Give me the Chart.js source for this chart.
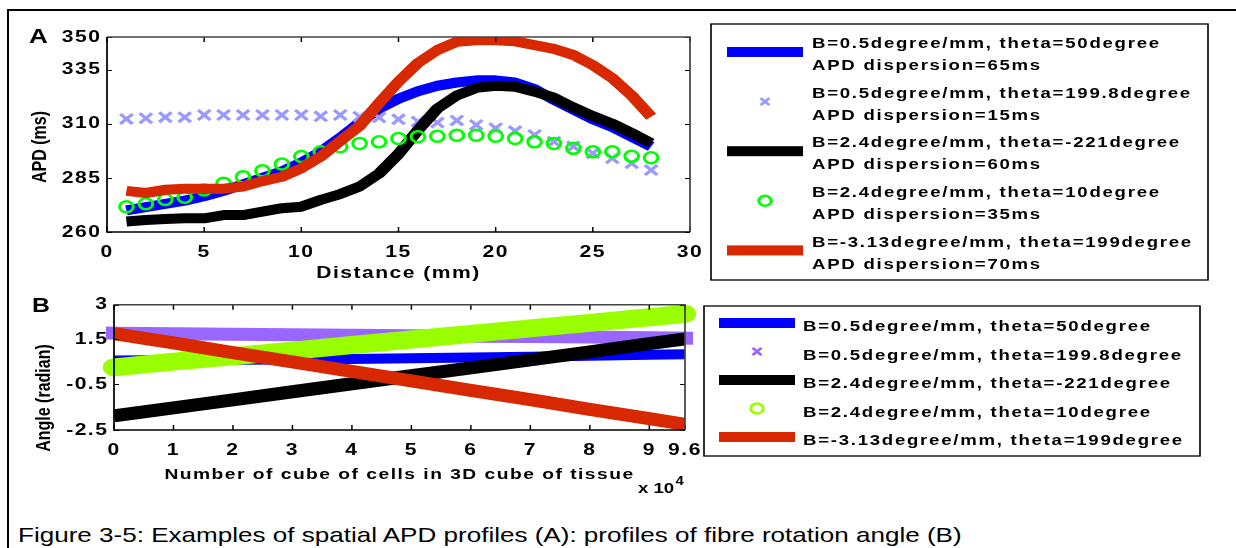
<!DOCTYPE html>
<html>
<head>
<meta charset="utf-8">
<script src="https://cdn.jsdelivr.net/npm/chart.js@4/dist/chart.umd.min.js"></script>
<style>
    body { margin: 0; width: 1236px; height: 548px; background: #fff; position: relative; overflow: hidden; font-family: "Liberation Sans", Arial, sans-serif; }
    #frame { position: absolute; left: 7px; top: 9px; width: 1240px; height: 560px; border-left: 2px solid #000; border-top: 2px solid #000; }
    canvas { position: absolute; left: 0; }
    #chartA { top: 0; }
    #chartB { top: 290px; }
    .wide { position: absolute; white-space: nowrap; transform: scaleX(1.24); transform-origin: 0 0; }
    .panel { font-weight: bold; line-height: 21px; }
    #caption { left: 18px; top: 523px; font-size: 21px; line-height: 24px; }
    #expo { left: 638px; top: 476px; font-size: 15px; font-weight: bold; }
    #expo sup { font-size: 12px; position: relative; top: -2px; margin-left: 1px; }
</style>
</head>
<body>
<div id="frame"></div>
<canvas id="chartA" width="1236" height="290"></canvas>
<canvas id="chartB" width="1236" height="210"></canvas>
<div class="wide panel" style="left:29px; top:25px; font-size:21px;">A</div>
<div class="wide panel" style="left:32px; top:295px; font-size:20px;">B</div>
<div class="wide" id="expo">x 10<sup>4</sup></div>
<div class="wide" id="caption">Figure 3-5: Examples of spatial APD profiles (A): profiles of fibre rotation angle (B)</div>

<script>
    // ---- panel A: APD along the fibre (ms) ----
    var distanceMm = [1, 2, 3, 4, 5, 6, 7, 8, 9, 10, 11, 12, 13, 14, 15, 16, 17, 18, 19, 20, 21, 22, 23, 24, 25, 26, 27, 28];

    var apdB05t50 = [270, 271.5, 273, 274.5, 276.5, 279, 282, 285, 288, 292, 297, 303.5, 310.5, 317, 321.5, 325, 327.5, 329, 330, 330, 329, 326, 321, 316.5, 312, 308.5, 304, 299.5];
    var apdB05t1998 = [312.2, 312.5, 313, 313, 314, 314, 314, 314, 314, 314, 313.4, 314, 313.2, 312.8, 312, 311, 310.5, 311.5, 309.4, 307.9, 306.6, 304.8, 301.7, 299.5, 296.3, 294, 291.7, 288.6];
    var apdB24tm221 = [264.8, 265.5, 266, 266.3, 266.3, 267.8, 267.8, 269.4, 271, 271.7, 274.8, 277.5, 281, 287, 296, 307, 317, 323, 326.5, 327.5, 327, 324.8, 322, 317.5, 313.5, 310, 305.7, 301];
    var apdB24t10 = [271.7, 273, 275, 276, 279.4, 282.5, 285.5, 288.3, 291.4, 294.8, 297, 299.3, 300.9, 301.6, 303.2, 304, 304.2, 304.7, 304.7, 304.2, 303.2, 301.6, 300.9, 298.6, 297, 297, 295, 294.3];
    var apdBm313t199 = [279, 278, 279.5, 280, 280, 280, 281, 283.5, 285.5, 289.4, 294.8, 302, 309, 319.5, 329.4, 338, 344, 347.8, 348.5, 348.5, 348, 346.3, 344.5, 341.7, 337, 331, 323, 313.2];

    var apdTicks = [260, 285, 310, 335, 350];

    var seriesNames = [
        'B=0.5degree/mm, theta=50degree',
        'B=0.5degree/mm, theta=199.8degree',
        'B=2.4degree/mm, theta=-221degree',
        'B=2.4degree/mm, theta=10degree',
        'B=-3.13degree/mm, theta=199degree'
    ];
    var apdDispersion = ['APD dispersion=65ms', 'APD dispersion=15ms', 'APD dispersion=60ms', 'APD dispersion=35ms', 'APD dispersion=70ms'];

    // ---- panel B: fibre rotation angle (radian) ----
    var cubeCount = [0, 1, 2, 3, 4, 5, 6, 7, 8, 9, 9.6];

    var angleB05t50 = [0.55, 0.57, 0.58, 0.6, 0.62, 0.65, 0.68, 0.72, 0.76, 0.8, 0.83];
    var angleB05t1998 = [1.75, 1.72, 1.7, 1.68, 1.66, 1.64, 1.62, 1.6, 1.58, 1.55, 1.53];
    var angleB24tm221 = [-1.88, -1.53, -1.18, -0.82, -0.47, -0.12, 0.23, 0.58, 0.93, 1.29, 1.5];
    var angleB24t10 = [0.25, 0.5, 0.74, 0.98, 1.23, 1.47, 1.72, 1.96, 2.2, 2.45, 2.6];
    var angleBm313t199 = [1.73, 1.32, 0.9, 0.49, 0.07, -0.34, -0.76, -1.17, -1.59, -2.0, -2.25];

    var angleTicks = [-2.5, -0.5, 1.5, 3];
    var cubeTicks = [0, 1, 2, 3, 4, 5, 6, 7, 8, 9, 9.6];


    var fontFamily = '"Liberation Sans", Arial, sans-serif';

    // the original figure was exported stretched sideways, so the canvas
    // is laid out narrow and drawn with a horizontal scale
    var STRETCH = 1.24;

    function sx(px) {
        return px / STRETCH;
    }

    function xy(xs, ys) {
        return xs.map(function (x, i) {
            return {x: x, y: ys[i]};
        });
    }

    function boldFont(size) {
        return {family: fontFamily, size: size, weight: 'bold'};
    }

    // box around the plot with inward ticks, like the matlab axes
    var matlabBox = {
        id: 'matlabBox',
        beforeDraw: function (chart) {
            chart.ctx.setTransform(STRETCH, 0, 0, 1, 0, 0);
            chart.ctx.letterSpacing = '1.2px';
        },
        afterDraw: function (chart) {
            var ctx = chart.ctx;
            var a = chart.chartArea;
            var xs = chart.scales.x;
            var ys = chart.scales.y;

            ctx.save();
            ctx.letterSpacing = '0px';
            ctx.strokeStyle = '#000';
            ctx.lineWidth = 1.2;
            ctx.beginPath();
            xs.ticks.forEach(function (t) {
                var px = xs.getPixelForValue(t.value);
                ctx.moveTo(px, a.bottom);
                ctx.lineTo(px, a.bottom - 5);
                ctx.moveTo(px, a.top);
                ctx.lineTo(px, a.top + 5);
            });
            ys.ticks.forEach(function (t) {
                var py = Math.round(ys.getPixelForValue(t.value)) + 0.5;
                ctx.moveTo(a.left, py);
                ctx.lineTo(a.left + 4, py);
                ctx.moveTo(a.right, py);
                ctx.lineTo(a.right - 4, py);
            });
            ctx.stroke();

            ctx.lineWidth = 1.4;
            ctx.strokeStyle = '#444';
            ctx.beginPath();
            ctx.moveTo(a.left, a.top);
            ctx.lineTo(a.right, a.top);
            ctx.lineTo(a.right, a.bottom);
            ctx.stroke();
            ctx.strokeStyle = '#000';
            ctx.beginPath();
            ctx.moveTo(a.left, a.top);
            ctx.lineTo(a.left, a.bottom);
            ctx.lineTo(a.right, a.bottom);
            ctx.stroke();

            var yt = chart.options.plugins.yTitle;
            if (yt) {
                ctx.translate(yt.x, yt.y);
                ctx.rotate(-Math.PI / 2);
                ctx.font = 'bold ' + yt.size + 'px ' + fontFamily;
                ctx.fillStyle = '#000';
                ctx.textAlign = 'center';
                ctx.textBaseline = 'alphabetic';
                ctx.fillText(yt.text, 0, 0);
            }
            ctx.restore();
        }
    };

    // framed legend on the right side, two text lines per entry allowed
    function drawBoxLegend(chart, opts, entries) {
        var ctx = chart.ctx;
        ctx.save();
        ctx.lineWidth = 1.3;
        ctx.strokeStyle = '#000';
        ctx.strokeRect(opts.left, opts.top, opts.width, opts.height);

        entries.forEach(function (e, i) {
            var cy = opts.firstY + i * opts.step;

            if (e.pointStyle) {
                ctx.strokeStyle = e.color;
                ctx.fillStyle = 'rgba(0,0,0,0)';
                ctx.lineWidth = e.width;
                Chart.helpers.drawPoint(ctx, {pointStyle: e.pointStyle, radius: e.radius, borderWidth: e.width, rotation: 0}, opts.markerX, cy);
            } else {
                ctx.fillStyle = e.color;
                ctx.fillRect(opts.barLeft, cy - 5, opts.barWidth, 10);
            }

            ctx.letterSpacing = opts.spacing;
            ctx.font = 'bold 15px ' + fontFamily;
            ctx.fillStyle = '#000';
            ctx.textAlign = 'left';
            ctx.textBaseline = 'middle';
            e.lines.forEach(function (line, k) {
                ctx.fillText(line, opts.textX, cy + opts.textOffsets[k]);
            });
        });
        ctx.restore();
    }

    var legendPlugin = {
        id: 'boxLegend',
        afterDraw: function (chart, args, opts) {
            var entries = chart.data.datasets.map(function (ds, i) {
                var e = {color: ds.borderColor, lines: [ds.label]};
                if (opts.extraLines) {
                    e.lines.push(opts.extraLines[i]);
                }
                if (opts.markers && opts.markers[i]) {
                    e.pointStyle = opts.markers[i][0];
                    e.radius = opts.markers[i][1];
                    e.width = opts.markers[i][2];
                }
                return e;
            });
            drawBoxLegend(chart, opts, entries);
        }
    };

    function lineSet(label, values, xs, color, width, extra) {
        var ds = {
            label: label,
            data: xy(xs, values),
            borderColor: color,
            backgroundColor: color,
            borderWidth: width,
            pointRadius: 0,
            fill: false,
            tension: 0,
            borderCapStyle: 'butt',
            borderJoinStyle: 'round'
        };
        for (var k in extra) {
            ds[k] = extra[k];
        }
        return ds;
    }

    function markerSet(label, values, xs, color, style, radius, width, order) {
        return {
            label: label,
            data: xy(xs, values),
            showLine: false,
            order: order,
            borderColor: color,
            backgroundColor: 'rgba(0,0,0,0)',
            pointStyle: style,
            pointRadius: radius,
            pointBorderWidth: width,
            pointBorderColor: color,
            pointBackgroundColor: 'rgba(0,0,0,0)'
        };
    }

    function axisTicks(padding) {
        return {
            padding: padding,
            color: '#000',
            font: boldFont(17),
            autoSkip: false,
            maxRotation: 0,
            minRotation: 0,
            callback: function (v) {
                return String(v);
            }
        };
    }

    var datasetsA = [
        lineSet(seriesNames[0], apdB05t50, distanceMm, '#0000ff', 10, {order: 5}),
        markerSet(seriesNames[1], apdB05t1998, distanceMm, '#9999ff', 'crossRot', 7, 3, 4),
        lineSet(seriesNames[2], apdB24tm221, distanceMm, '#000000', 10, {order: 3}),
        markerSet(seriesNames[3], apdB24t10, distanceMm, '#00ff00', 'circle', 5.5, 2.5, 2),
        lineSet(seriesNames[4], apdBm313t199, distanceMm, '#d82800', 10, {order: 1, clip: 0})
    ];

    new Chart(document.getElementById('chartA'), {
        type: 'line',
        data: {datasets: datasetsA},
        plugins: [matlabBox, legendPlugin],
        options: {
            responsive: false,
            animation: false,
            layout: {padding: {left: 10, top: 37, right: 1236 - sx(690), bottom: 2}},
            plugins: {
                legend: {display: false},
                tooltip: {enabled: false},
                yTitle: {text: 'APD (ms)', x: sx(46), y: 147, size: 16},
                boxLegend: {
                    left: sx(711), top: 24, width: sx(1208) - sx(711), height: 256,
                    firstY: 52, step: 49.6,
                    barLeft: sx(727), barWidth: sx(76), markerX: sx(765),
                    textX: sx(812), textOffsets: [-8, 14], spacing: '1.4px',
                    extraLines: apdDispersion,
                    markers: [null, ['crossRot', 5, 2.5], null, ['circle', 5, 2.5], null]
                }
            },
            scales: {
                x: {
                    type: 'linear',
                    min: 0,
                    max: 30,
                    ticks: Object.assign(axisTicks(10), {stepSize: 5}),
                    grid: {display: false, drawTicks: false},
                    border: {display: false},
                    title: {display: true, text: 'Distance (mm)', color: '#000', font: boldFont(17), padding: {top: 4, bottom: 4}},
                    afterFit: function (s) {
                        s.height = 56;
                    }
                },
                y: {
                    min: 260,
                    max: 350,
                    afterBuildTicks: function (s) {
                        s.ticks = apdTicks.map(function (v) {
                            return {value: v};
                        });
                    },
                    ticks: axisTicks(4.5),
                    grid: {display: false, drawTicks: false},
                    border: {display: false},
                    afterFit: function (s) {
                        s.width = sx(107) - 10;
                    }
                }
            }
        }
    });

    var datasetsB = [
        lineSet(seriesNames[0], angleB05t50, cubeCount, '#0000ff', 10, {order: 5}),
        lineSet(seriesNames[1], angleB05t1998, cubeCount, '#9966ff', 13, {order: 4, clip: false, borderCapStyle: 'square'}),
        lineSet(seriesNames[2], angleB24tm221, cubeCount, '#000000', 13, {order: 3}),
        lineSet(seriesNames[3], angleB24t10, cubeCount, '#99ff00', 18, {order: 2, clip: false, borderCapStyle: 'round'}),
        lineSet(seriesNames[4], angleBm313t199, cubeCount, '#d82800', 13, {order: 1})
    ];

    new Chart(document.getElementById('chartB'), {
        type: 'line',
        data: {datasets: datasetsB},
        plugins: [matlabBox, legendPlugin],
        options: {
            responsive: false,
            animation: false,
            layout: {padding: {left: 10, top: 8, right: 1236 - sx(685), bottom: 12}},
            plugins: {
                legend: {display: false},
                tooltip: {enabled: false},
                yTitle: {text: 'Angle (radian)', x: sx(50), y: 108, size: 16},
                boxLegend: {
                    left: sx(704), top: 16, width: sx(1200) - sx(704), height: 150,
                    firstY: 33, step: 28.5,
                    barLeft: sx(719), barWidth: sx(76), markerX: sx(757),
                    textX: sx(803), textOffsets: [4], spacing: '1.4px',
                    markers: [null, ['crossRot', 5, 2.5], null, ['circle', 5, 2.5], null]
                }
            },
            scales: {
                x: {
                    type: 'linear',
                    min: 0,
                    max: 9.6,
                    afterBuildTicks: function (s) {
                        s.ticks = cubeTicks.map(function (v) {
                            return {value: v};
                        });
                    },
                    ticks: axisTicks(10),
                    grid: {display: false, drawTicks: false},
                    border: {display: false},
                    title: {display: true, text: 'Number of cube of cells in 3D cube of tissue', color: '#000', font: boldFont(15.5), padding: {top: 4, bottom: 4}},
                    afterFit: function (s) {
                        s.height = 58;
                    }
                },
                y: {
                    min: -2.5,
                    max: 3,
                    afterBuildTicks: function (s) {
                        s.ticks = angleTicks.map(function (v) {
                            return {value: v};
                        });
                    },
                    ticks: axisTicks(4.5),
                    grid: {display: false, drawTicks: false},
                    border: {display: false},
                    afterFit: function (s) {
                        s.width = sx(114) - 10;
                    }
                }
            }
        }
    });
</script>
</body>
</html>
